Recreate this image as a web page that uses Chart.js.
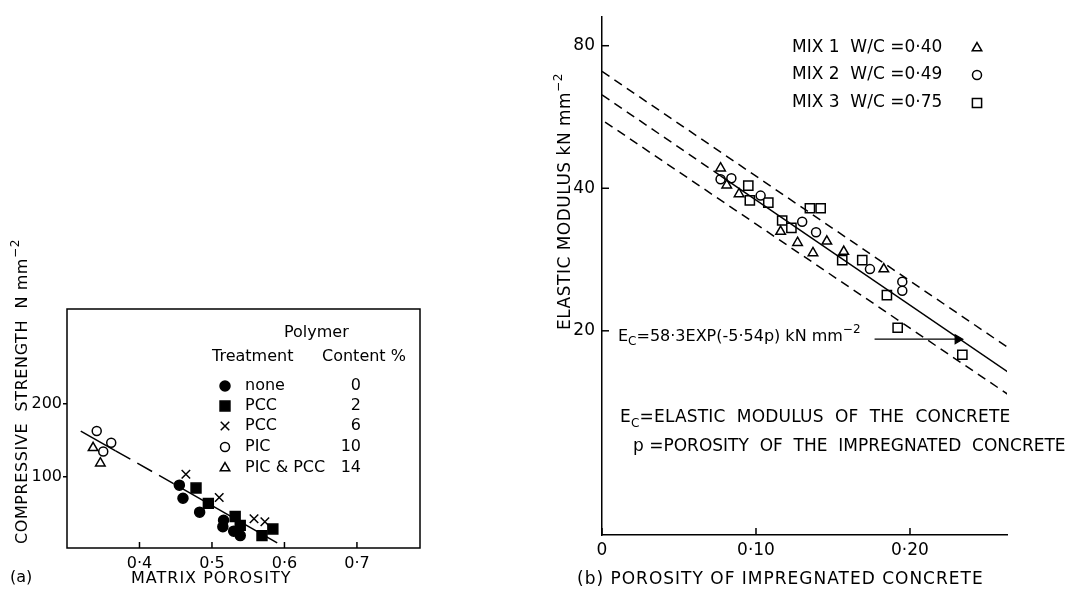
<!DOCTYPE html>
<html>
<head>
<meta charset="utf-8">
<script src="https://cdn.jsdelivr.net/npm/chart.js@4.4.1/dist/chart.umd.min.js"></script>
<style>
  html, body { margin: 0; padding: 0; background: #fff; }
  #wrap { position: relative; width: 1068px; height: 597px; overflow: hidden; }
  #chartA { position: absolute; left: 0; top: 0; }
  #chartB { position: absolute; left: 530px; top: 0; }
</style>
</head>
<body>
<div id="wrap">
  <canvas id="chartA" width="530" height="597"></canvas>
  <canvas id="chartB" width="538" height="597"></canvas>
</div>
<script>
// ── PANEL (a): compressive strength vs matrix porosity ───────────────────────
var noneX   = [0.455, 0.460, 0.483, 0.516, 0.515, 0.530, 0.539];
var noneY   = [89, 71, 52, 41, 32, 26, 20];
var pcc2X   = [0.478, 0.495, 0.532, 0.539, 0.569, 0.584];
var pcc2Y   = [85, 64, 46, 34, 20, 29];
var pcc6X   = [0.464, 0.510, 0.558, 0.573];
var pcc6Y   = [104, 72, 43, 39];
var picX    = [0.341, 0.361, 0.350];
var picY    = [163, 147, 135];
var picPccX = [0.336, 0.346];
var picPccY = [140, 119];
var fitAX   = [0.319, 0.367, 0.447, 0.590];
var fitAY   = [163, 136, 91, 10];

var xTicksA      = [0.4, 0.5, 0.6, 0.7];
var xTickLabelsA = ['0·4', '0·5', '0·6', '0·7'];
var yTicksA      = [100, 200];
var treatmentLabels = ['none', 'PCC', 'PCC', 'PIC', 'PIC & PCC'];
var contentLabels   = ['0', '2', '6', '10', '14'];

// ── PANEL (b): elastic modulus vs porosity (log axis) ────────────────────────
var mix1P = [0.077, 0.081, 0.089, 0.116, 0.127, 0.137, 0.146, 0.157, 0.183];
var mix1E = [44.1, 40.6, 38.9, 32.4, 30.7, 29.2, 30.9, 29.4, 27.0];
var mix2P = [0.077, 0.084, 0.103, 0.130, 0.139, 0.174, 0.195, 0.195];
var mix2E = [41.8, 42.0, 38.6, 34.0, 32.3, 27.0, 25.4, 24.3];
var mix3P = [0.095, 0.096, 0.108, 0.117, 0.123, 0.135, 0.142, 0.156, 0.169, 0.185, 0.192, 0.234];
var mix3E = [40.5, 37.7, 37.3, 34.2, 33.0, 36.3, 36.3, 28.2, 28.2, 23.8, 20.3, 17.8];
var fitBP   = [0, 0.077, 0.273];
var fitBE   = [63, 42.5, 15.6];
var upperP  = [0, 0.275];
var upperE  = [70.6, 17.4];
var lowerP  = [0.002, 0.273];
var lowerE  = [55.2, 14.0];
var arrowP  = [0.177, 0.231];
var arrowE  = [19.2, 19.2];

var xTicksB      = [0, 0.1, 0.2];
var xTickLabelsB = ['0', '0·10', '0·20'];
var yTicksB      = [20, 40, 80];
var mixLabels    = ['MIX 1  W/C =0·40', 'MIX 2  W/C =0·49', 'MIX 3  W/C =0·75'];

var FONT = '"DejaVu Sans", sans-serif';
Chart.defaults.font.family = FONT;
Chart.defaults.color = '#000';

function pts(xs, ys) {
  return xs.map(function(x, i) { return { x: x, y: ys[i] }; });
}

// text with sub/superscript pieces: parts = [[text, 'sub'|'sup'|null], ...]
function drawRich(ctx, parts, x, y, size, spacing) {
  ctx.textAlign = 'left';
  ctx.textBaseline = 'middle';
  ctx.letterSpacing = (spacing || 0) + 'px';
  parts.forEach(function(p) {
    var s = p[1] ? Math.round(size * 0.72) : size;
    var dy = p[1] === 'sub' ? size * 0.32 : (p[1] === 'sup' ? -size * 0.42 : 0);
    ctx.font = s + 'px ' + FONT;
    ctx.fillText(p[0], x, y + dy);
    x += ctx.measureText(p[0]).width;
  });
  ctx.letterSpacing = '0px';
}

function marker(ctx, style, r, x, y, filled) {
  ctx.save();
  ctx.strokeStyle = '#000';
  ctx.fillStyle = filled ? '#000' : '#fff';
  ctx.lineWidth = 1.5;
  Chart.helpers.drawPoint(ctx, { pointStyle: style, radius: r, rotation: 0, borderWidth: 1.5 }, x, y);
  ctx.restore();
}

// inward tick marks
function inTicks(chart, scaleId, len) {
  var sc = chart.scales[scaleId];
  var ctx = chart.ctx;
  var a = chart.chartArea;
  ctx.save();
  ctx.strokeStyle = '#000';
  ctx.lineWidth = 1.5;
  sc.ticks.forEach(function(t) {
    var p = sc.getPixelForValue(t.value);
    ctx.beginPath();
    if (sc.isHorizontal()) { ctx.moveTo(p, a.bottom); ctx.lineTo(p, a.bottom - len); }
    else { ctx.moveTo(a.left, p); ctx.lineTo(a.left + len, p); }
    ctx.stroke();
  });
  ctx.restore();
}

function ptSet(label, xs, ys, style, r, filled) {
  return {
    label: label,
    data: pts(xs, ys),
    pointStyle: style,
    pointRadius: r,
    pointHoverRadius: r,
    pointBorderWidth: 1.5,
    pointBorderColor: '#000',
    pointBackgroundColor: filled ? '#000' : '#fff',
    showLine: false
  };
}

function lineSet(xs, ys, dash, extra) {
  var ds = {
    data: pts(xs, ys),
    showLine: true,
    borderColor: '#000',
    borderWidth: 1.5,
    borderDash: dash || [],
    pointRadius: 0,
    fill: false
  };
  for (var k in extra) ds[k] = extra[k];
  return ds;
}

// ── chart (a) ────────────────────────────────────────────────────────────────
var annotA = {
  id: 'annotA',
  afterDraw: function(chart) {
    var ctx = chart.ctx, a = chart.chartArea;
    ctx.save();
    ctx.strokeStyle = '#000';
    ctx.lineWidth = 1.5;
    ctx.strokeRect(a.left, a.top, a.right - a.left, a.bottom - a.top);
    inTicks(chart, 'x', 6);
    ctx.fillStyle = '#000';

    // legend
    drawRich(ctx, [['Polymer']], 284, 333, 16);
    drawRich(ctx, [['Treatment']], 212, 357, 16);
    drawRich(ctx, [['Content %']], 322, 357, 16);
    var rowsY = [386, 406, 426, 447, 468];
    var styles = [['circle', 5, true], ['rect', 7, true], ['crossRot', 6, false], ['circle', 4.5, false], ['triangle', 5.5, false]];
    rowsY.forEach(function(y, i) {
      marker(ctx, styles[i][0], styles[i][1], 225, y, styles[i][2]);
      ctx.fillStyle = '#000';
      drawRich(ctx, [[treatmentLabels[i]]], 245, y, 16);
      ctx.textAlign = 'right';
      ctx.fillText(contentLabels[i], 361, y);
    });

    // titles
    drawRich(ctx, [['MATRIX POROSITY']], 131, 579, 16, 1);
    drawRich(ctx, [['(a)']], 10, 578, 16);

    ctx.translate(23, 544);
    ctx.rotate(-Math.PI / 2);
    drawRich(ctx, [['COMPRESSIVE  STRENGTH  N mm'], ['−2', 'sup']], 0, 0, 16, 0.6);
    ctx.restore();
  }
};

new Chart(document.getElementById('chartA'), {
  type: 'scatter',
  data: {
    datasets: [
      lineSet(fitAX, fitAY, [], {
        segment: { borderDash: function(c) { return c.p0DataIndex === 1 ? [17, 8] : undefined; } }
      }),
      ptSet('none', noneX, noneY, 'circle', 5, true),
      ptSet('PCC 2', pcc2X, pcc2Y, 'rect', 7, true),
      ptSet('PCC 6', pcc6X, pcc6Y, 'crossRot', 6, false),
      ptSet('PIC', picX, picY, 'circle', 4.5, false),
      ptSet('PIC & PCC', picPccX, picPccY, 'triangle', 5.5, false)
    ]
  },
  options: {
    responsive: false,
    animation: false,
    layout: { padding: { top: 309, right: 110, left: 0, bottom: 0 } },
    plugins: { legend: { display: false }, tooltip: { enabled: false } },
    scales: {
      x: {
        type: 'linear',
        min: 0.3,
        max: 0.787,
        afterBuildTicks: function(s) { s.ticks = xTicksA.map(function(v) { return { value: v }; }); },
        afterFit: function(s) { s.height = 49; },
        ticks: {
          padding: 6,
          font: { size: 16 },
          callback: function(v) { return xTickLabelsA[xTicksA.indexOf(v)]; }
        },
        grid: { display: false, drawTicks: false },
        border: { display: false }
      },
      y: {
        min: 3,
        max: 330,
        afterBuildTicks: function(s) { s.ticks = yTicksA.map(function(v) { return { value: v }; }); },
        afterFit: function(s) { s.width = 67; },
        ticks: { padding: 1, font: { size: 16 } },
        grid: { display: true, drawOnChartArea: false, drawTicks: true, tickLength: 4, color: '#000', lineWidth: 1.5 },
        border: { display: false }
      }
    }
  },
  plugins: [annotA]
});

// ── chart (b) ────────────────────────────────────────────────────────────────
var annotB = {
  id: 'annotB',
  afterDraw: function(chart) {
    var ctx = chart.ctx;
    var ox = 530; // canvas offset in the page
    inTicks(chart, 'x', 7);
    inTicks(chart, 'y', 7);
    ctx.save();
    ctx.fillStyle = '#000';

    // legend
    var rowsY = [48, 75, 103];
    var styles = [['triangle', 5.5], ['circle', 4.5], ['rect', 6.5]];
    rowsY.forEach(function(y, i) {
      drawRich(ctx, [[mixLabels[i]]], 792 - ox, y, 17);
      marker(ctx, styles[i][0], styles[i][1], 977 - ox, y, false);
    });
    ctx.fillStyle = '#000';

    drawRich(ctx, [['E'], ['C', 'sub'], ['=58·3EXP(-5·54p) kN mm'], ['−2', 'sup']], 618 - ox, 337, 16);
    drawRich(ctx, [['E'], ['C', 'sub'], ['=ELASTIC  MODULUS  OF  THE  CONCRETE']], 620 - ox, 418, 17, 0.2);
    drawRich(ctx, [['p =POROSITY  OF  THE  IMPREGNATED  CONCRETE']], 633 - ox, 447, 17);
    drawRich(ctx, [['(b) POROSITY OF IMPREGNATED CONCRETE']], 577 - ox, 580, 17, 1);

    ctx.translate(566 - ox, 330);
    ctx.rotate(-Math.PI / 2);
    drawRich(ctx, [['ELASTIC MODULUS kN mm'], ['−2', 'sup']], 0, 0, 17, 0.5);
    ctx.restore();
  }
};

new Chart(document.getElementById('chartB'), {
  type: 'scatter',
  data: {
    datasets: [
      lineSet(upperP, upperE, [9, 6]),
      lineSet(lowerP, lowerE, [9, 6]),
      lineSet(fitBP, fitBE, [], {
        segment: { borderDash: function(c) { return c.p0DataIndex === 0 ? [9, 6] : undefined; } }
      }),
      lineSet(arrowP, arrowE, [], {
        borderWidth: 1.3,
        pointRadius: [0, 5],
        pointStyle: 'triangle',
        rotation: 90,
        pointBackgroundColor: '#000',
        pointBorderColor: '#000'
      }),
      ptSet('MIX 1', mix1P, mix1E, 'triangle', 5.5, false),
      ptSet('MIX 2', mix2P, mix2E, 'circle', 4.5, false),
      ptSet('MIX 3', mix3P, mix3E, 'rect', 6.5, false)
    ]
  },
  options: {
    responsive: false,
    animation: false,
    layout: { padding: { top: 10, right: 61, left: 0, bottom: 0 } },
    plugins: { legend: { display: false }, tooltip: { enabled: false } },
    scales: {
      x: {
        type: 'linear',
        min: 0,
        max: 0.263,
        afterBuildTicks: function(s) { s.ticks = xTicksB.map(function(v) { return { value: v }; }); },
        afterFit: function(s) { s.height = 62; },
        ticks: {
          padding: 5,
          font: { size: 17 },
          callback: function(v) { return xTickLabelsB[xTicksB.indexOf(v)]; }
        },
        grid: { display: false, drawTicks: false },
        border: { display: true, color: '#000', width: 1.5 }
      },
      y: {
        type: 'logarithmic',
        min: 7.41,
        max: 91.9,
        afterBuildTicks: function(s) { s.ticks = yTicksB.map(function(v) { return { value: v }; }); },
        afterFit: function(s) { s.width = 72; },
        ticks: { padding: 7, font: { size: 17 }, callback: function(v) { return String(v); } },
        grid: { display: false, drawTicks: false },
        border: { display: true, color: '#000', width: 1.5 }
      }
    }
  },
  plugins: [annotB]
});
</script>
</body>
</html>
